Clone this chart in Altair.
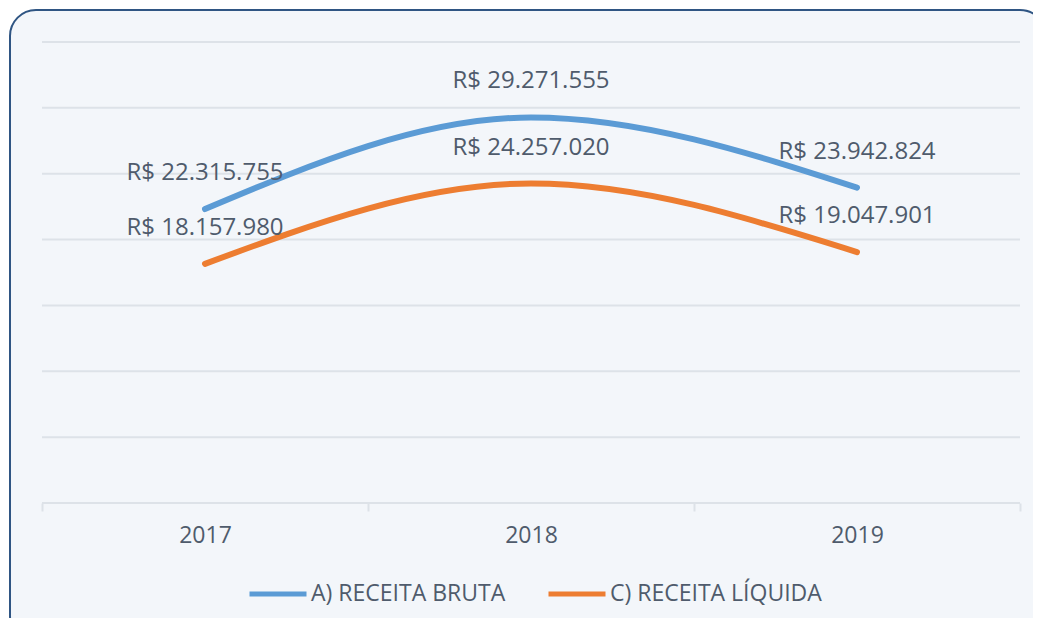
import altair as alt
import pandas as pd

years = ["2017", "2018", "2019"]
bruta = [22315755, 29271555, 23942824]
liquida = [18157980, 24257020, 19047901]
series = ["A) RECEITA BRUTA", "C) RECEITA LÍQUIDA"]
colors = ["#5b9bd5", "#ed7d31"]
grid_values = [0, 5000000, 10000000, 15000000, 20000000, 25000000, 30000000, 35000000]

rows = []
for s, vals in zip(series, [bruta, liquida]):
    for y, v in zip(years, vals):
        rows.append({"ano": y, "serie": s, "valor": v,
                     "rotulo": "R$ " + f"{v:,}".replace(",", ".")})
df = pd.DataFrame(rows)

FONT = "Open Sans"
TXT = "#4f5b6c"
GRID = "#dde2e8"

yscale = alt.Scale(domain=[0, 35000000], nice=False, zero=True)
xscale = alt.Scale(type="band", domain=years, paddingInner=0, paddingOuter=0)

frame = alt.Chart(alt.Data(values=[{"k": 1}])).mark_rect(
    fill="#f3f6fa", stroke="#2f5583", strokeWidth=2, cornerRadius=26
).encode(x=alt.value(-32), x2=alt.value(1004), y=alt.value(-32), y2=alt.value(600))

grid = alt.Chart(pd.DataFrame({"v": grid_values})).mark_rule(
    color=GRID, strokeWidth=2
).encode(y=alt.Y("v:Q", scale=yscale, axis=None))

xenc = alt.X("ano:O", scale=xscale, bandPosition=0.5,
             axis=alt.Axis(title=None, domain=False, ticks=True, tickBand="extent",
                           tickSize=8, tickColor=GRID, tickWidth=2, grid=False,
                           labelFont=FONT, labelFontSize=23, labelColor=TXT,
                           labelPadding=13, labelAngle=0, zindex=1))
yenc = alt.Y("valor:Q", scale=yscale, axis=None)

lines = alt.Chart(df).mark_line(interpolate="monotone", strokeWidth=6, strokeCap="round").encode(
    x=xenc, y=yenc,
    color=alt.Color("serie:N", scale=alt.Scale(domain=series, range=colors),
                    legend=alt.Legend(orient="none", legendX=205, legendY=521,
                                      direction="horizontal", title=None,
                                      symbolType="stroke", symbolSize=3249,
                                      symbolStrokeWidth=5, labelFont=FONT,
                                      labelFontSize=23, labelColor=TXT,
                                      labelLimit=400, zindex=1,
                                      columnPadding=32, labelOffset=2))
)

labels = alt.Chart(df).mark_text(dy=-36, font=FONT, fontSize=24, color=TXT).encode(
    x=xenc, y=yenc, text="rotulo:N"
)

chart = alt.layer(frame, grid, lines, labels).properties(
    width=978, height=461,
    autosize=alt.AutoSizeParams(type="none"),
    padding={"left": 34, "top": 34, "right": 13, "bottom": 115},
    background="white",
).configure_view(stroke="transparent")

chart.save("out.html", embed_options={"renderer": "svg", "actions": False})
